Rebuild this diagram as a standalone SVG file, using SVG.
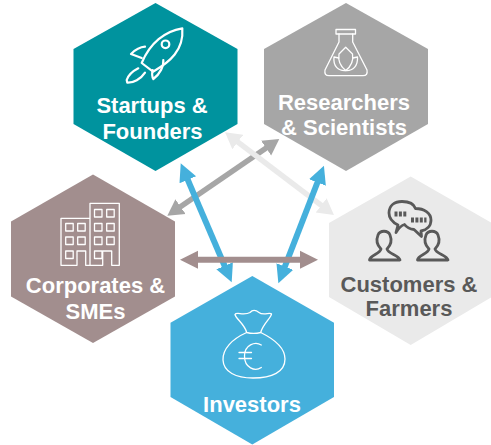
<svg xmlns="http://www.w3.org/2000/svg" width="491" height="445" viewBox="0 0 491 445">
<style>
text{font-family:"Liberation Sans",Arial,sans-serif;font-weight:700;font-size:22px;text-anchor:middle;fill:#fff}
.ic{fill:none;stroke:#fff;stroke-width:2.2;stroke-linejoin:round;stroke-linecap:round}
.th{stroke-width:1.3}
.dk{stroke:#595959;stroke-width:2.8}
</style>
<defs>
<marker id="hg" markerUnits="userSpaceOnUse" viewBox="0 0 20 20" markerWidth="20" markerHeight="20" refX="1" refY="10" orient="auto-start-reverse"><path d="M0 1L16 10L0 19z" fill="#a6a6a6"/></marker>
<marker id="hl" markerUnits="userSpaceOnUse" viewBox="0 0 20 20" markerWidth="20" markerHeight="20" refX="1" refY="10" orient="auto-start-reverse"><path d="M0 1L16 10L0 19z" fill="#eaeaea"/></marker>
<marker id="hb" markerUnits="userSpaceOnUse" viewBox="0 0 20 20" markerWidth="20" markerHeight="20" refX="1" refY="10" orient="auto-start-reverse"><path d="M0 1L18 10L0 19z" fill="#45b0dc"/></marker>
<marker id="hr" markerUnits="userSpaceOnUse" viewBox="0 0 19 19" markerWidth="19" markerHeight="19" refX="1" refY="9.5" orient="auto-start-reverse"><path d="M0 0.500L18 9.500L0 18.500z" fill="#a28e8e"/></marker>
</defs>
<g id="startups">
<path d="M155.500 3L237.500 49V124L155.500 171L73.500 124V49z" fill="#00939e"/>
<path class="ic" d="M182.300 28.300C165 31 150 43 141.700 63L153 71.700C170 62 184 50 182.300 28.300z"/>
<circle class="ic" cx="165.500" cy="44.300" r="3.800"/>
<path class="ic" d="M145 46.700C140 47 135 50 131 54L141.700 58"/>
<path class="ic" d="M163.300 60C164 66 160 74 153.300 79C151.500 76 152 73 152.700 70"/>
<path class="ic" d="M138.300 68.300C133 71 128 76 126.700 80L127.300 82.700C133 83 141 79 145 72.700"/>
<text><tspan x="152" y="113">Startups &amp;</tspan><tspan x="152.500" y="138.500">Founders</tspan></text>
</g>
<g id="researchers">
<path d="M346 3L428 49V124L346 171L264 124V49z" fill="#a6a6a6"/>
<rect class="ic th" x="336" y="29.500" width="19.500" height="4.500"/>
<path class="ic th" d="M339 34V42L325 70Q324 75.700 329 75.700H363Q368 75.700 367 70L352.700 42V34"/>
<path class="ic th" d="M345.700 70.500C340 66 338 60 339 54L345.700 47.300L352.500 54C353.500 60 351.500 66 345.700 70.500z"/>
<path class="ic th" d="M345.700 70.500C338 71 333 66 334 57L338.800 58M345.700 70.500C353 71 358 66 357.500 57L352.700 58"/>
<text><tspan x="344" y="110">Researchers</tspan><tspan x="344" y="135">&amp; Scientists</tspan></text>
</g>
<g id="corporates">
<path d="M93 174.500L175 221.500V296.500L93 343L11 296.500V221.500z" fill="#a28e8e"/>
<path class="ic th" d="M61 265.300V218.300H90M90 265.300V203.300H119.300V265.300H111.700V251H102.700V265.300H90M90 265.300H85.700V251H77V265.300H61"/>
<g class="ic th">
<rect x="65.700" y="223.500" width="7.500" height="7.500"/><rect x="77.700" y="223.500" width="7.500" height="7.500"/>
<rect x="65.700" y="237" width="7.500" height="7.500"/><rect x="77.700" y="237" width="7.500" height="7.500"/>
<rect x="65.700" y="251" width="7.500" height="7.500"/>
<rect x="94.500" y="209.500" width="7.500" height="7.500"/><rect x="106.700" y="209.500" width="7.500" height="7.500"/>
<rect x="94.500" y="223.500" width="7.500" height="7.500"/><rect x="106.700" y="223.500" width="7.500" height="7.500"/>
<rect x="94.500" y="237" width="7.500" height="7.500"/><rect x="106.700" y="237" width="7.500" height="7.500"/>
<rect x="94.500" y="251" width="7.500" height="7.500"/>
</g>
<text><tspan x="95.500" y="292.500">Corporates &amp;</tspan><tspan x="95.500" y="319">SMEs</tspan></text>
</g>
<g id="customers">
<path d="M410.700 176.500L492 223V297L410.700 345L329 297V223z" fill="#eaeaea"/>
<path class="ic dk" d="M396 232.500L398 225C392 222 389 218 389 213C389 205 395 201.500 402 201.500C409 201.500 414 204 415.500 208.500C424 208.500 431 213 431 220C431 226 427 230 421 231L421.500 236.500L414 229.500C409 229 406 226.500 404.500 224.500C402 225 400 226 396 232.500z"/>
<path d="M394.500 214H407M411 220H426.500" fill="none" stroke="#595959" stroke-width="5" stroke-dasharray="3 1.400"/>
<path class="ic dk" d="M369.500 260C370 255 380 254 381 249C377 245 376 240 378 235C380 230 388 230 390 235C392 240 391 245 387 249C388 254 399 255 400 260z"/>
<path class="ic dk" d="M417.500 260C418 255 428 254 429 249C425 245 424 240 426 235C428 230 436 230 438 235C440 240 439 245 435 249C436 254 447 255 448 260z"/>
<text style="fill:#595959"><tspan x="409" y="291.500">Customers &amp;</tspan><tspan x="409" y="315.700">Farmers</tspan></text>
</g>
<g id="investors">
<path d="M252.300 276L334 322.700V397L252.300 444.500L170.500 397V322.700z" fill="#45b0dc"/>
<path class="ic th" d="M246.700 332.500C244.500 324 236 319 235 314.500C236 311.500 244 316 250 312.500C253 309 256 310 259 312.500C263 316 270 312 271.500 314C271 318 263 324 260.700 332.500C256 333.700 251 333.700 246.700 332.500z"/>
<path class="ic th" d="M246.700 332.500C232 339 222.500 349 223 360C223.500 372 236 378 253 378C272 378 285 372 285 359C285 348 274 339 260.700 332.500"/>
<path class="ic th" d="M261.300 345C255 341 244.500 345 244.500 356C244.500 368 255 372 261.300 367.500M239 352.500H251.500M239 358.500H251.500"/>
<text x="252" y="411.500">Investors</text>
</g>
<g id="connectors" fill="none">
<line x1="266.900" y1="147.500" x2="179.700" y2="207.200" stroke="#a6a6a6" stroke-width="5.500" marker-start="url(#hg)" marker-end="url(#hg)"/>
<line x1="237" y1="141.400" x2="322" y2="205.900" stroke="#eaeaea" stroke-width="5.500" marker-start="url(#hl)" marker-end="url(#hl)"/>
<line x1="187.400" y1="178.900" x2="225" y2="266.700" stroke="#45b0dc" stroke-width="6" marker-start="url(#hb)" marker-end="url(#hb)"/>
<line x1="317.800" y1="181.500" x2="284.500" y2="267.500" stroke="#45b0dc" stroke-width="6" marker-start="url(#hb)" marker-end="url(#hb)"/>
<line x1="197" y1="259.700" x2="301" y2="259.700" stroke="#a28e8e" stroke-width="6" marker-start="url(#hr)" marker-end="url(#hr)"/>
</g>
</svg>
